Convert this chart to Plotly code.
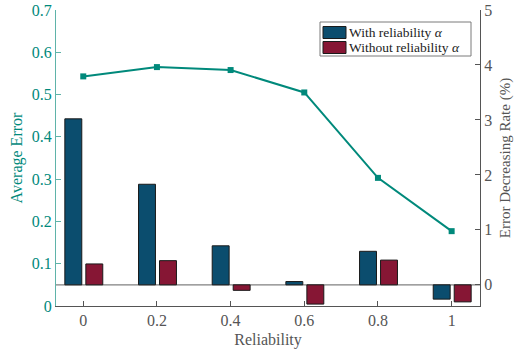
import plotly.graph_objects as go

reliability = [0, 0.2, 0.4, 0.6, 0.8, 1.0]
tick_labels = ["0", "0.2", "0.4", "0.6", "0.8", "1"]
average_error = [0.543, 0.565, 0.558, 0.505, 0.303, 0.177]
with_alpha = [3.02, 1.83, 0.71, 0.06, 0.61, -0.26]
without_alpha = [0.38, 0.44, -0.10, -0.35, 0.45, -0.31]
series_names = ["With reliability <i>α</i>", "Without reliability <i>α</i>"]
series_colors = ["#0b4d6e", "#861634"]

TEAL = "#00897b"
TEAL_AXIS = "#5fb3a9"
GRAY = "#555555"
FONT = "Liberation Serif, Times New Roman, serif"

# plot area in page pixels: x 56..480, y 10..306
def px(x):
    return (x - 56) / 424

def py(y):
    return (306 - y) / 296

fig = go.Figure()

fig.add_trace(go.Bar(
    x=reliability, y=with_alpha, name=series_names[0],
    yaxis="y2", marker=dict(color=series_colors[0], line=dict(color="#1a1a1a", width=1)),
    width=0.046, offset=-0.050, showlegend=False,
))
fig.add_trace(go.Bar(
    x=reliability, y=without_alpha, name=series_names[1],
    yaxis="y2", marker=dict(color=series_colors[1], line=dict(color="#1a1a1a", width=1)),
    width=0.046, offset=0.007, showlegend=False,
))
fig.add_trace(go.Scatter(
    x=reliability, y=average_error, yaxis="y", mode="lines+markers",
    line=dict(color=TEAL, width=2), marker=dict(symbol="square", size=6, color=TEAL),
    showlegend=False,
))

fig.add_shape(type="line", xref="paper", x0=0, x1=1, yref="y2", y0=0, y1=0,
              line=dict(color="#808080", width=1.2), layer="below")

# Legend box (drawn manually to match compact MATLAB-style legend)
fig.add_shape(type="rect", xref="paper", yref="paper", x0=px(320), x1=px(471),
              y0=py(56), y1=py(22), line=dict(color="#7a7a7a", width=1),
              fillcolor="white", layer="above")
sw_rows = [(26.5, 38.5), (41.5, 53.5)]
txt_rows = [32.5, 47.5]
for i in range(2):
    fig.add_shape(type="rect", xref="paper", yref="paper", x0=px(323), x1=px(346),
                  y0=py(sw_rows[i][1]), y1=py(sw_rows[i][0]),
                  line=dict(color="#1a1a1a", width=1),
                  fillcolor=series_colors[i], layer="above")
    fig.add_annotation(xref="paper", yref="paper", x=px(348), y=py(txt_rows[i]),
                       xanchor="left", yanchor="middle", showarrow=False,
                       text=series_names[i], font=dict(size=13.5, color="#222222"),
                       borderpad=0)

fig.update_layout(
    width=514, height=349,
    margin=dict(l=56, r=34, t=10, b=43),
    paper_bgcolor="white", plot_bgcolor="white",
    font=dict(family=FONT, size=16, color=GRAY),
    barmode="overlay",
    showlegend=False,
    xaxis=dict(
        range=[-0.074, 1.077], tickvals=reliability, ticktext=tick_labels,
        ticks="inside", ticklen=5, tickcolor=GRAY, showline=True, linecolor=GRAY,
        linewidth=1.2, showgrid=False, zeroline=False, automargin=False,
        title=dict(text="Reliability", font=dict(size=16, color=GRAY), standoff=6),
    ),
    yaxis=dict(
        range=[0, 0.7], tickvals=[0, 0.1, 0.2, 0.3, 0.4, 0.5, 0.6, 0.7],
        ticktext=["0", "0.1", "0.2", "0.3", "0.4", "0.5", "0.6", "0.7"],
        ticks="inside", ticklen=5, tickcolor=TEAL_AXIS, showline=True,
        linecolor=TEAL_AXIS, linewidth=1.2, showgrid=False, zeroline=False,
        automargin=False, ticklabeloverflow="allow",
        tickfont=dict(color=TEAL, size=16),
        title=dict(text="Average Error", font=dict(size=16, color=TEAL), standoff=5),
    ),
    yaxis2=dict(
        range=[-0.385, 5], tickvals=[0, 1, 2, 3, 4, 5], overlaying="y", side="right",
        ticks="inside", ticklen=5, tickcolor=GRAY, showline=True, linecolor=GRAY,
        linewidth=1.2, showgrid=False, zeroline=False, automargin=False,
        ticklabeloverflow="allow",
        tickfont=dict(color=GRAY, size=16),
        title=dict(text="Error Decreasing Rate (%)", font=dict(size=15, color=GRAY), standoff=8),
    ),
)

fig.write_html("out.html", config={"displayModeBar": False},
               post_script="document.body.style.margin='0px';")
